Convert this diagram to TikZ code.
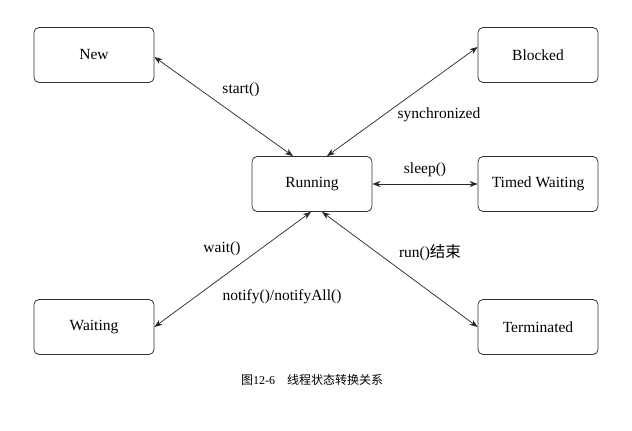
\documentclass[tikz,border=0pt]{standalone}
\usepackage{fontspec}
\setmainfont{Liberation Serif}
\newfontfamily\timesfont{Liberation Serif}
\newfontfamily\cjk{Noto Sans CJK SC}
\usetikzlibrary{arrows.meta}

\begin{document}
\begin{tikzpicture}[x=1pt, y=1pt,
        state/.style   = {draw = black!80, line width = 0.8pt, rounded corners = 5pt,
                          minimum width = 120pt, minimum height = 55pt,
                          font = \timesfont\fontsize{15.5}{18}\selectfont},
        trans/.style   = {draw = black!85, line width = 0.7pt,
                          {Stealth[length = 8pt, width = 6pt, inset = 2.5pt]}-{Stealth[length = 8pt, width = 6pt, inset = 2.5pt]}},
        translabel/.style = {font = \timesfont\fontsize{15.5}{18}\selectfont}]
    \useasboundingbox (0, 0) rectangle (632, 431);  % Keep the page size of the reference

    % The thread states
    \node[state] (new)        at ( 94, 376) {New};
    \node[state] (running)    at (312, 247) {Running};
    \node[state] (blocked)    at (538, 376) {Blocked};
    \node[state] (timed)      at (538, 247) {Timed Waiting};
    \node[state] (waiting)    at ( 94, 104) {Waiting};
    \node[state] (terminated) at (538, 104) {Terminated};

    % The transitions between them
    \draw[trans] ([yshift = -2pt]new.east)     -- ([xshift = -19pt]running.north);
    \draw[trans] ([yshift =  8pt]blocked.west) -- ([xshift =  15pt]running.north);
    \draw[trans] (running.east)                -- (timed.west);
    \draw[trans] (waiting.east)                -- ([xshift =  -1pt]running.south);
    \draw[trans] ([xshift = 10pt]running.south) -- (terminated.west);

    \node[translabel] (lstart)  at (241, 341) {start()};
    \node[translabel] (lsync)   at (439, 316) {synchronized};
    \node[translabel] (lsleep)  at (425, 261) {sleep()};
    \node[translabel] (lwait)   at (222, 182) {wait()};
    \node[translabel] (lnotify) at (282, 134) {notify()/notifyAll()};
    \node[translabel] (lrun)    at (430, 178) {run()\cjk 结束};

    % Caption of the figure
    \node[font = \fontsize{12}{14}\selectfont] (caption) at (312, 51) {\cjk 图\timesfont 12-6\quad\cjk 线程状态转换关系};
\end{tikzpicture}
\end{document}
